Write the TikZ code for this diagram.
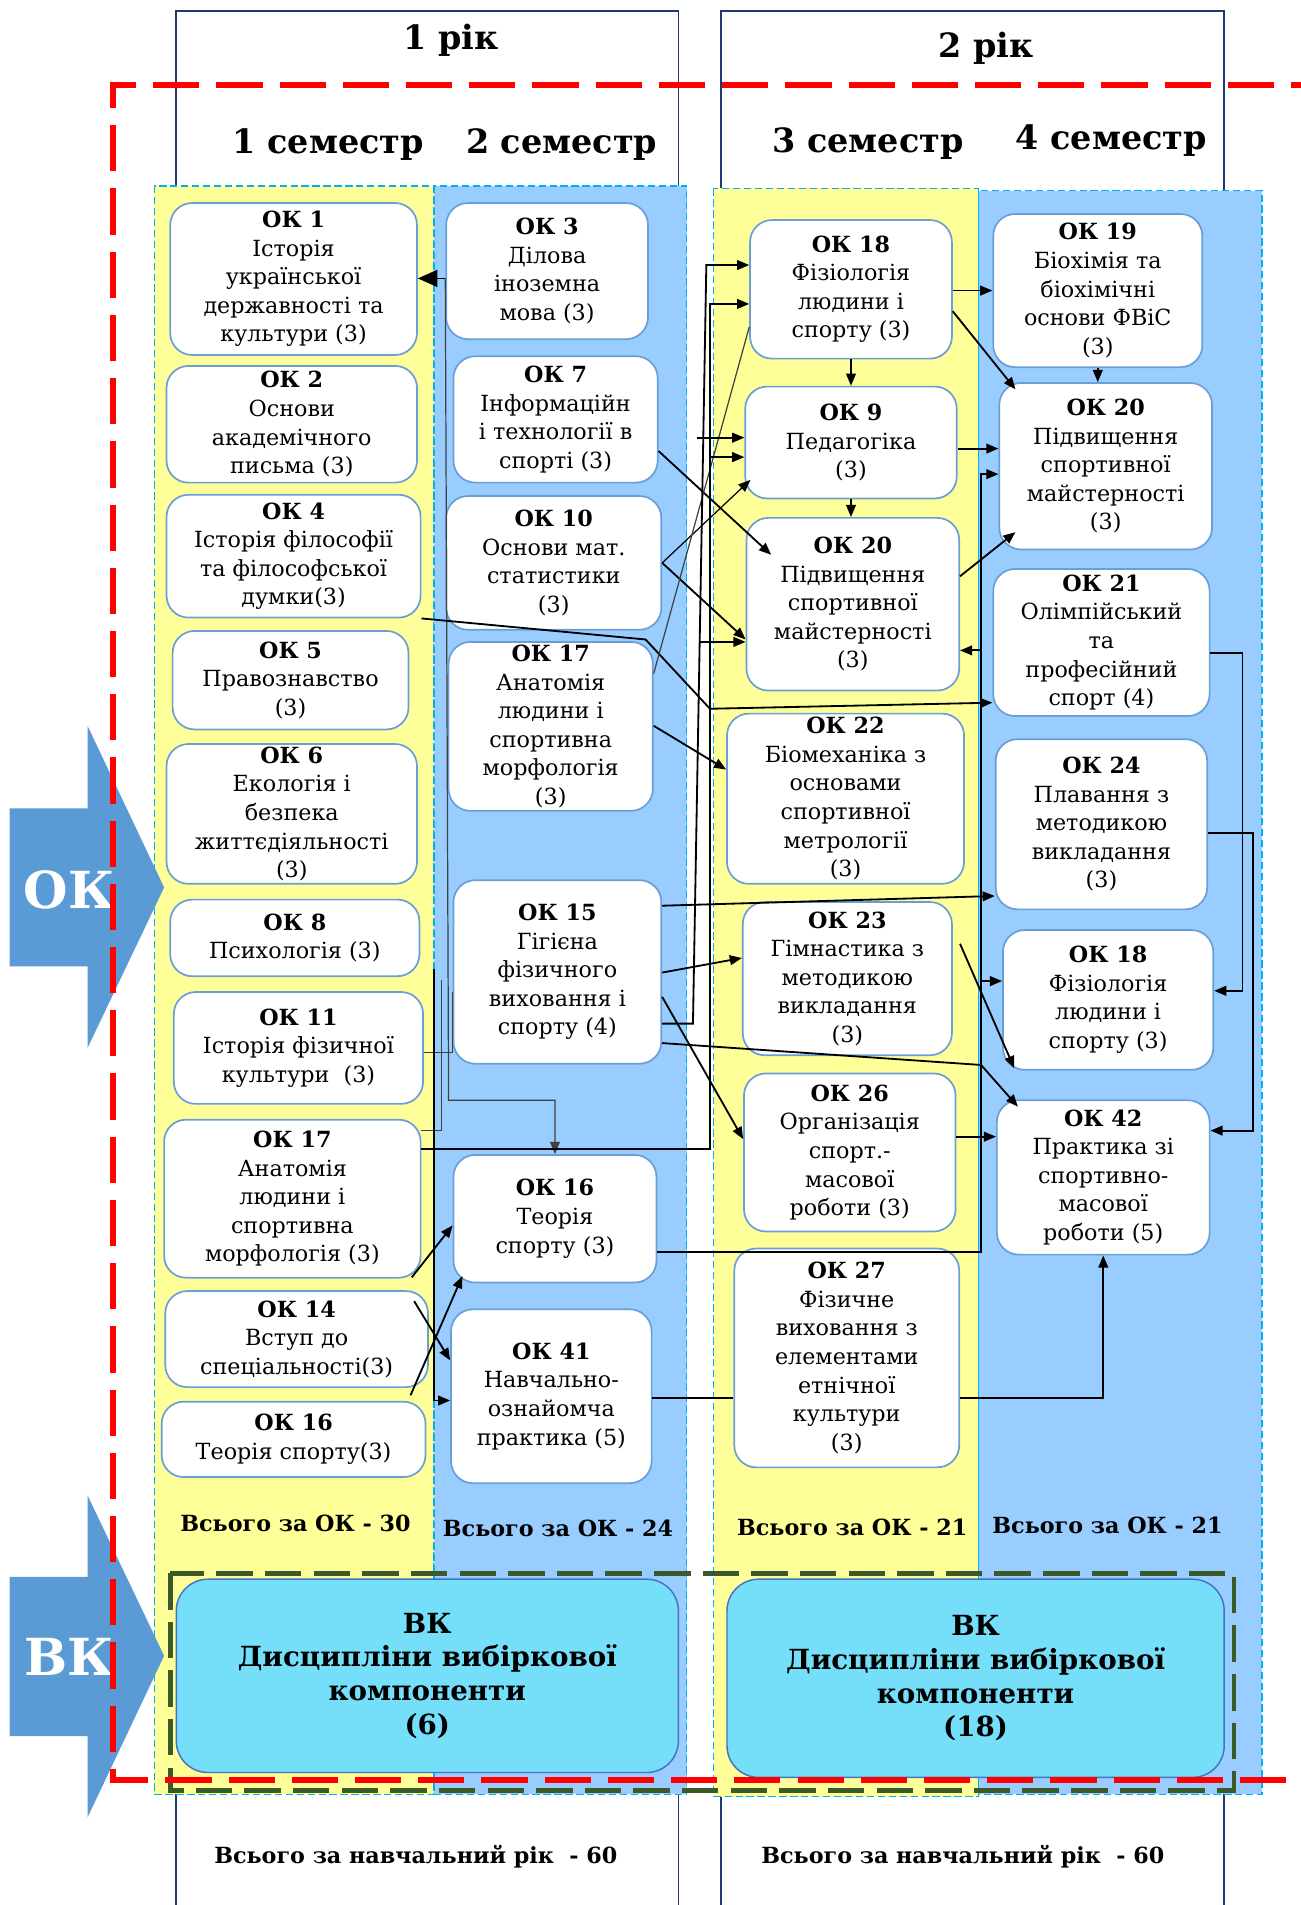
\documentclass[tikz,border=0pt]{standalone}
\usepackage{fontspec}
\setmainfont{DejaVu Serif}
\usetikzlibrary{arrows.meta,calc}
\definecolor{ylw}{HTML}{FFFF99}
\definecolor{blu}{HTML}{99CCFF}
\definecolor{bxb}{HTML}{6A9FD6}
\definecolor{cyn}{HTML}{00B0F0}
\definecolor{navy}{HTML}{1F3A6E}
\definecolor{grn}{HTML}{3A5A28}
\definecolor{vkf}{HTML}{75DFFA}
\definecolor{vkb}{HTML}{4472C4}
\definecolor{arrb}{HTML}{5B9BD5}
\newcommand\okb[6]{\node[okbox, minimum width={(#4-#2)*1pt}, minimum height={(#5-#3)*1pt}] (#1) at ({(#2+#4)/2},{(#3+#5)/2}) {#6};}
\begin{document}
\begin{tikzpicture}[x=1pt,y=-1pt,
  >={Triangle[length=10pt,width=8pt]},
  okbox/.style={rounded corners=18pt, draw=bxb, line width=1.4pt, fill=white, align=center,
    font=\fontsize{18.3}{23.5}\selectfont, inner sep=0pt},
  vkbox/.style={rounded corners=26pt, draw=vkb, line width=1.2pt, fill=vkf, align=center,
    font=\fontsize{22.8}{27.8}\selectfont\bfseries, inner sep=0pt},
  colbox/.style={draw=cyn, line width=1pt, dash pattern=on 6pt off 3pt},
  hdr/.style={font=\fontsize{27.5}{32}\selectfont\bfseries, inner sep=0pt},
  tot/.style={font=\fontsize{18.3}{21}\selectfont\bfseries, inner sep=0pt},
  con/.style={line width=1.5pt, ->},
  ln/.style={line width=1.5pt},
  thn/.style={line width=1pt, black!75},
]
\clip (0,0) rectangle (1070,1567);
\fill[white] (0,0) rectangle (1070,1567);
% year frames
\draw[navy, line width=1.3pt] (145,1590) -- (145,9) -- (558,9) -- (558,1590);
\draw[navy, line width=1.3pt] (593,1590) -- (593,9) -- (1007,9) -- (1007,1590);
\node[hdr] (y1) at (371,33) {1 рік};
\node[hdr] (y2) at (811,40) {2 рік};
\node[hdr] (s1) at (270,119) {1 семестр};
\node[hdr] (s2) at (462,119) {2 семестр};
\node[hdr] (s3) at (714,118) {3 семестр};
\node[hdr] (s4) at (914,116) {4 семестр};
% columns
\draw[colbox, fill=ylw] (127,153) rectangle (357,1476);
\draw[colbox, fill=blu] (357,153) rectangle (565,1476);
\draw[colbox, fill=ylw] (587,155) rectangle (805,1478);
\draw[colbox, fill=blu] (805,157) rectangle (1038,1476);
% block arrows
\fill[arrb] (8,665) -- (72,665) -- (72,597) -- (135,730) -- (72,862) -- (72,795) -- (8,795) -- cycle;
\node[font=\fontsize{42}{46}\selectfont\bfseries, text=white, inner sep=0pt] (okl) at (57,732) {ОК};
\fill[arrb] (8,1297) -- (72,1297) -- (72,1230) -- (135,1362) -- (72,1495) -- (72,1428) -- (8,1428) -- cycle;
\node[font=\fontsize{42}{46}\selectfont\bfseries, text=white, inner sep=0pt] (vkl) at (57,1363) {ВК};
% column 1
\okb{OK1}{140}{167}{343}{292}{\textbf{ОК 1}\\Історія\\української\\державності та\\культури (3)}
\okb{OK2}{137}{301}{343}{397}{\textbf{ОК 2}\\Основи\\академічного\\письма (3)}
\okb{OK4}{137}{407}{346}{508}{\textbf{ОК 4}\\Історія філософії\\та філософської\\думки(3)}
\okb{OK5}{142}{519}{336}{600}{\textbf{ОК 5}\\Правознавство\\(3)}
\okb{OK6}{137}{612}{343}{727}{\textbf{ОК 6}\\Екологія і\\безпека\\життєдіяльності\\(3)}
\okb{OK8}{140}{740}{345}{803}{\textbf{ОК 8}\\Психологія (3)}
\okb{OK11}{143}{816}{348}{908}{\textbf{ОК 11}\\Історія фізичної\\культури~~(3)}
\okb{OK17a}{135}{921}{346}{1051}{\textbf{ОК 17}\\Анатомія\\людини і\\спортивна\\морфологія (3)}
\okb{OK14}{136}{1062}{352}{1141}{\textbf{ОК 14}\\Вступ до\\спеціальності(3)}
\okb{OK16a}{133}{1153}{350}{1215}{\textbf{ОК 16}\\Теорія спорту(3)}
% column 2
\okb{OK3}{367}{167}{533}{279}{\textbf{ОК 3}\\Ділова\\іноземна\\мова (3)}
\okb{OK7}{373}{293}{541}{397}{\textbf{ОК 7}\\Інформаційн\\і технології в\\спорті (3)}
\okb{OK10}{367}{408}{544}{518}{\textbf{ОК 10}\\Основи мат.\\статистики\\(3)}
\okb{OK17b}{369}{528}{537}{667}{\textbf{ОК 17}\\Анатомія\\людини і\\спортивна\\морфологія\\(3)}
\okb{OK15}{373}{724}{544}{875}{\textbf{ОК 15}\\Гігієна\\фізичного\\виховання і\\спорту (4)}
\okb{OK16b}{373}{950}{540}{1055}{\textbf{ОК 16}\\Теорія\\спорту (3)}
\okb{OK41}{371}{1077}{536}{1220}{\textbf{ОК 41}\\Навчально-\\ознайомча\\практика (5)}
% column 3
\okb{OK18a}{617}{181}{783}{295}{\textbf{ОК 18}\\Фізіологія\\людини і\\спорту (3)}
\okb{OK9}{613}{318}{787}{410}{\textbf{ОК 9}\\Педагогіка\\(3)}
\okb{OK20a}{614}{426}{789}{568}{\textbf{ОК 20}\\Підвищення\\спортивної\\майстерності\\(3)}
\okb{OK22}{598}{587}{793}{727}{\textbf{ОК 22}\\Біомеханіка з\\основами\\спортивної\\метрології\\(3)}
\okb{OK23}{611}{742}{783}{868}{\textbf{ОК 23}\\Гімнастика з\\методикою\\викладання\\(3)}
\okb{OK26}{612}{883}{786}{1013}{\textbf{ОК 26}\\Організація\\спорт.-\\масової\\роботи (3)}
\okb{OK27}{604}{1027}{789}{1207}{\textbf{ОК 27}\\Фізичне\\виховання з\\елементами\\етнічної\\культури\\(3)}
% column 4
\okb{OK19}{817}{176}{989}{302}{\textbf{ОК 19}\\Біохімія та\\біохімічні\\основи ФВіС\\(3)}
\okb{OK20b}{822}{315}{997}{452}{\textbf{ОК 20}\\Підвищення\\спортивної\\майстерності\\(3)}
\okb{OK21}{817}{468}{995}{589}{\textbf{ОК 21}\\Олімпійський\\та\\професійний\\спорт (4)}
\okb{OK24}{819}{608}{993}{748}{\textbf{ОК 24}\\Плавання з\\методикою\\викладання\\(3)}
\okb{OK18b}{825}{765}{998}{880}{\textbf{ОК 18}\\Фізіологія\\людини і\\спорту (3)}
\okb{OK42}{820}{905}{995}{1032}{\textbf{ОК 42}\\Практика зі\\спортивно-\\масової\\роботи (5)}
% totals
\node[tot] (t1) at (243,1253) {Всього за ОК - 30};
\node[tot] (t2) at (459,1257) {Всього за ОК - 24};
\node[tot] (t3) at (701,1256) {Всього за ОК - 21};
\node[tot] (t4) at (911,1255) {Всього за ОК - 21};
\node[tot] (ty1) at (342,1527) {Всього за навчальний рік~~- 60};
\node[tot] (ty2) at (792,1527) {Всього за навчальний рік~~- 60};
% connectors, left part
\coordinate (c4) at (357,797);
\draw[thn, -{Triangle[length=16pt,width=14pt]}, black] (OK3.west |- 0,229) -- (OK1.east |- 0,229);
\draw[thn, ->] (OK3.west |- 0,229) -- (369,905) -- (OK16b.north |- 0,905) -- (OK16b.north);
\draw[thn] (OK11.east |- 0,866) -- (372,866) -- (372,816);
\draw[thn] (OK17a.east |- 0,930) -- (363,930) -- (363,806);
\draw[con] (c4) -- (357,1152) -- (OK41.west |- 0,1152);
\draw[con] ($(OK17a.south east)+(-8,-1)$) -- (OK16b.west |- 0,1008);
\draw[con] ($(OK14.south east)+(-15,6)$) -- ($(OK16b.south west)+(8,-6)$);
\draw[con] ($(OK14.north east)+(-12,9)$) -- (OK41.west |- 0,1119);
% middle
\draw[con] (OK4.south east) -- (531,526) -- (584,583) -- (OK21.west |- 0,578);
\draw[con] (OK7.east |- 0,371) -- ($(OK20a.north west)+(21,31)$);
\draw[thn, ->, black] (OK10.east |- 0,463) -- ($(OK9.south west)+(5,-16)$);
\draw[con] (OK10.east |- 0,463) -- (OK20a.west |- 0,526);
\draw[thn] (OK17b.east |- 0,554) -- (OK18a.west |- 0,269);
\draw[con] (OK17b.east |- 0,597) -- (OK22.west |- 0,633);
\draw[con] (OK15.east |- 0,745) -- (OK24.west |- 0,737);
\draw[con] (OK15.east |- 0,800) -- (OK23.west |- 0,788);
\draw[con] (OK15.east |- 0,820) -- (OK26.west |- 0,937);
\draw[con] (OK15.east |- 0,858) -- (807,876) -- ($(OK42.north west)+(18,6)$);
\draw[con] (OK15.east |- 0,842) -- (570,842) -- (581,218) -- (OK18a.west |- 0,218);
\draw[con] (OK17a.east |- 0,945) -- (584,945) -- (584,250) -- (OK18a.west |- 0,250);
\draw[con] (573,360) -- (OK9.west |- 0,360);
\draw[con] (584,376) -- (OK9.west |- 0,376);
\draw[con] (575,528) -- (OK20a.west |- 0,528);
\draw[con] (OK16b.east |- 0,1030) -- (807,1030) -- (807,390) -- (OK20b.west |- 0,390);
\draw[con] (807,535) -- (OK20a.east |- 0,535);
\draw[con] (807,807) -- (OK18b.west |- 0,807);
\draw[ln] (OK41.east |- 0,1150) -- (OK27.west |- 0,1150);
\draw[con] (OK27.east |- 0,1150) -- (OK42.south |- 0,1150) -- (OK42.south);
\draw[con] (OK26.east |- 0,935) -- (OK42.west |- 0,935);
\draw[con] ($(OK23.north east)+(6,35)$) -- ($(OK18b.south west)+(10,-2)$);
% right part
\draw[con] (OK18a.east |- 0,239) -- (OK19.west |- 0,239);
\draw[con] (OK18a.east |- 0,256) -- ($(OK20b.north west)+(14,6)$);
\draw[con] (OK19.south) -- (OK19.south |- OK20b.north);
\draw[con] (OK18a.south) -- (OK18a.south |- OK9.north);
\draw[con] (OK9.south) -- (OK9.south |- OK20a.north);
\draw[con] (OK9.east |- 0,369) -- (OK20b.west |- 0,369);
\draw[con] (OK20a.east |- 0,474) -- ($(OK20b.south west)+(14,-15)$);
\draw[con] (OK21.east |- 0,537) -- (1022,537) -- (1022,815) -- (OK18b.east |- 0,815);
\draw[con] (OK24.east |- 0,685) -- (1031,685) -- (1031,930) -- (OK42.east |- 0,930);
% elective block
\draw[grn, line width=4pt, dash pattern=on 30pt off 10pt] (140,1294) rectangle (1015,1473);
\node[vkbox, minimum width=413pt, minimum height=159pt] (vk1) at (351.5,1378.5) {ВК\\Дисципліни вибіркової\\компоненти\\(6)};
\node[vkbox, minimum width=409pt, minimum height=163pt] (vk2) at (802.5,1380.5) {ВК\\Дисципліни вибіркової\\компоненти\\(18)};
% red frame
\draw[red, line width=4.5pt, dash pattern=on 38pt off 14pt] (1100,70) -- (93,70) -- (93,1464) -- (1100,1464);
\end{tikzpicture}
\end{document}
